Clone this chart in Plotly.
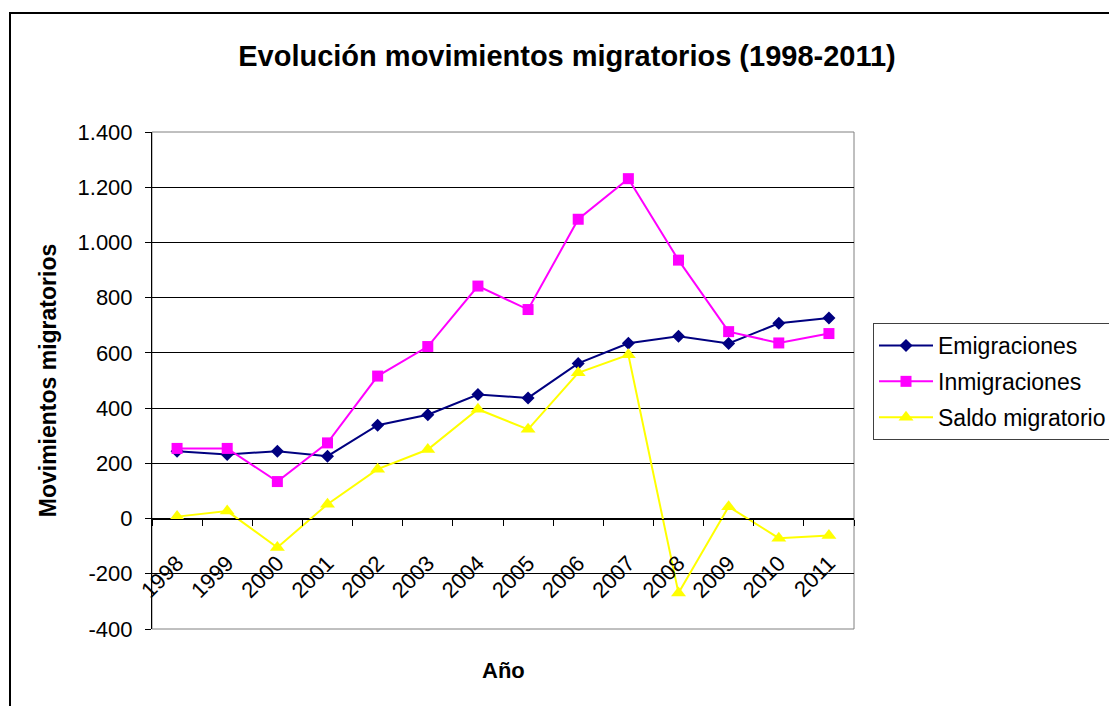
import plotly.graph_objects as go

years = ["1998", "1999", "2000", "2001", "2002", "2003", "2004",
         "2005", "2006", "2007", "2008", "2009", "2010", "2011"]
emigraciones = [244, 232, 244, 226, 338, 376, 449, 437, 562, 635, 660, 634, 707, 726]
inmigraciones = [254, 254, 134, 274, 516, 623, 842, 757, 1084, 1231, 936, 677, 636, 670]
saldo = [7, 27, -105, 52, 179, 250, 396, 323, 528, 593, -270, 43, -71, -61]

y_tickvals = [-400, -200, 0, 200, 400, 600, 800, 1000, 1200, 1400]
y_ticktext = ["-400", "-200", "0", "200", "400", "600", "800", "1.000", "1.200", "1.400"]

FONT = "Liberation Sans, Arial, sans-serif"
W, H = 1109, 706
L, R, T, B = 152, 854, 132, 629


def px2paper_x(px):
    return (px - L) / (R - L)


def px2paper_y(py):
    return (B - py) / (B - T)


fig = go.Figure()
fig.add_trace(go.Scatter(
    x=years, y=emigraciones, name="Emigraciones", mode="lines+markers",
    line=dict(color="#000080", width=2),
    marker=dict(symbol="diamond", size=10, color="#000080"),
    legendgroup="a"))
fig.add_trace(go.Scatter(
    x=years, y=inmigraciones, name="Inmigraciones", mode="lines+markers",
    line=dict(color="#FF00FF", width=2),
    marker=dict(symbol="square", size=11, color="#FF00FF"),
    legendgroup="b"))
fig.add_trace(go.Scatter(
    x=years, y=saldo, name="Saldo migratorio", mode="lines+markers",
    line=dict(color="#FFFF00", width=2),
    marker=dict(symbol="triangle-up", size=13, color="#FFFF00"),
    legendgroup="c"))

ymin, ymax = -400, 1400
zero_pos = (0 - ymin) / (ymax - ymin)

fig.update_layout(
    width=W, height=H,
    margin=dict(l=L, r=W - R, t=T, b=H - B, autoexpand=False),
    paper_bgcolor="white", plot_bgcolor="white",
    font=dict(family=FONT, size=22, color="black"),
    title=dict(text="<b>Evolución movimientos migratorios (1998-2011)</b>",
               x=567 / W, xref="container", xanchor="center",
               y=1 - 56 / H, yref="container", yanchor="middle",
               font=dict(family=FONT, size=29, color="black")),
    xaxis=dict(type="category", anchor="free", position=zero_pos,
               showline=True, linecolor="black", linewidth=1,
               ticks="outside", tickson="boundaries", ticklen=6, tickcolor="black",
               tickangle=-45, ticklabelstandoff=22,
               tickfont=dict(family=FONT, size=22, color="black"),
               showgrid=False, zeroline=False, automargin=False,
               range=[-0.5, len(years) - 0.5]),
    yaxis=dict(range=[ymin, ymax], tickvals=y_tickvals, ticktext=y_ticktext,
               showline=True, linecolor="black", linewidth=1,
               ticks="outside", ticklen=6, tickcolor="black",
               ticklabelstandoff=8,
               showgrid=True, gridcolor="black", gridwidth=1,
               zeroline=False, automargin=False,
               tickfont=dict(family=FONT, size=22, color="black"),
               title=dict(text="<b>Movimientos migratorios</b>", standoff=14,
                          font=dict(family=FONT, size=23, color="black"))),
    legend=dict(x=px2paper_x(873), y=px2paper_y(323), xanchor="left", yanchor="top",
                bgcolor="white", bordercolor="#404040", borderwidth=1,
                font=dict(family=FONT, size=23, color="black"),
                traceorder="grouped", tracegroupgap=3, itemwidth=54),
    showlegend=True,
)

# Plot area border (gray)
fig.add_shape(type="rect", xref="paper", yref="paper", x0=0, x1=1, y0=0, y1=1,
              line=dict(color="#808080", width=1), fillcolor="rgba(0,0,0,0)", layer="below")
# Outer chart border
fig.add_shape(type="rect", xref="paper", yref="paper",
              x0=px2paper_x(10), x1=px2paper_x(1200),
              y0=px2paper_y(800), y1=px2paper_y(13),
              line=dict(color="black", width=2), fillcolor="rgba(0,0,0,0)")

fig.add_annotation(text="<b>Año</b>", x=0.5, xref="paper", y=px2paper_y(670), yref="paper",
                   xanchor="center", yanchor="middle", showarrow=False,
                   font=dict(family=FONT, size=22, color="black"))

fig.write_html("out.html")
